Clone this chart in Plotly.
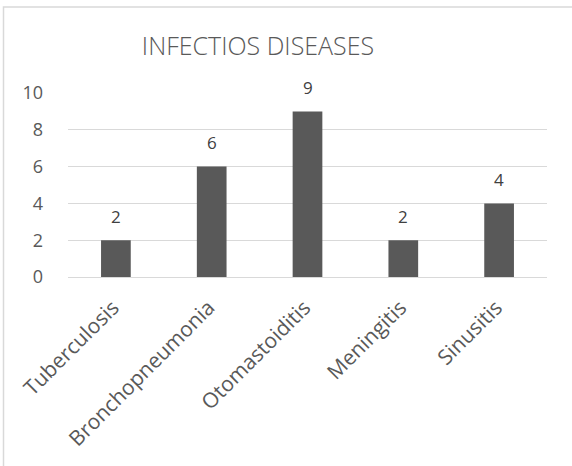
import plotly.graph_objects as go

# Case counts by infectious disease
categories = ["Tuberculosis", "Bronchopneumonia", "Otomastoiditis", "Meningitis", "Sinusitis"]
cases = [2, 6, 9, 2, 4]
y_ticks = [0, 2, 4, 6, 8, 10]

W, H = 572, 466
L, R, T, B = 68, 25, 93, 189
PW, PH = W - L - R, H - T - B

text_color = "#595959"
font_family = "Open Sans"

fig = go.Figure(
    go.Bar(
        x=categories,
        y=cases,
        marker=dict(color="#595959", line=dict(width=0)),
        width=0.31,
        hoverinfo="x+y",
    )
)

# value labels above each bar
for cat, val in zip(categories, cases):
    fig.add_annotation(
        x=cat, y=val, text=str(val), showarrow=False,
        yanchor="middle", yshift=24,
        font=dict(family=font_family, size=17, color="#404040"),
    )

# chart frame (left and top edges fall inside the page)
fig.add_shape(
    type="rect", xref="paper", yref="paper",
    x0=(3.5 - L) / PW, x1=(W + 20 - L) / PW,
    y0=-(B + 20) / PH, y1=(PH + T - 7) / PH,
    line=dict(color="#d9d9d9", width=1.5), fillcolor="rgba(0,0,0,0)", layer="below",
)

fig.update_layout(
    width=W, height=H,
    margin=dict(l=L, r=R, t=T, b=B, pad=0),
    paper_bgcolor="white", plot_bgcolor="white",
    showlegend=False,
    title=dict(
        text="INFECTIOS DISEASES",
        x=258 / W, xref="container", xanchor="center",
        y=1 - 46 / H, yref="container", yanchor="middle",
        font=dict(family=font_family, size=25, color=text_color, weight=300),
    ),
    font=dict(family=font_family, color=text_color),
    xaxis=dict(
        tickangle=-45, tickfont=dict(size=21, color=text_color),
        showline=True, linecolor="#d9d9d9", linewidth=1,
        ticks="", showgrid=False,
        ticklabelstandoff=9, ticklabelshift=-3,
    ),
    yaxis=dict(
        range=[0, 10], tickvals=y_ticks, ticktext=[str(v) for v in y_ticks],
        tickfont=dict(size=18, color=text_color),
        showgrid=True, gridcolor="#d9d9d9", gridwidth=1,
        zeroline=False, showline=False, ticks="",
        ticklabelstandoff=24,
    ),
)

fig.write_html("out.html")
